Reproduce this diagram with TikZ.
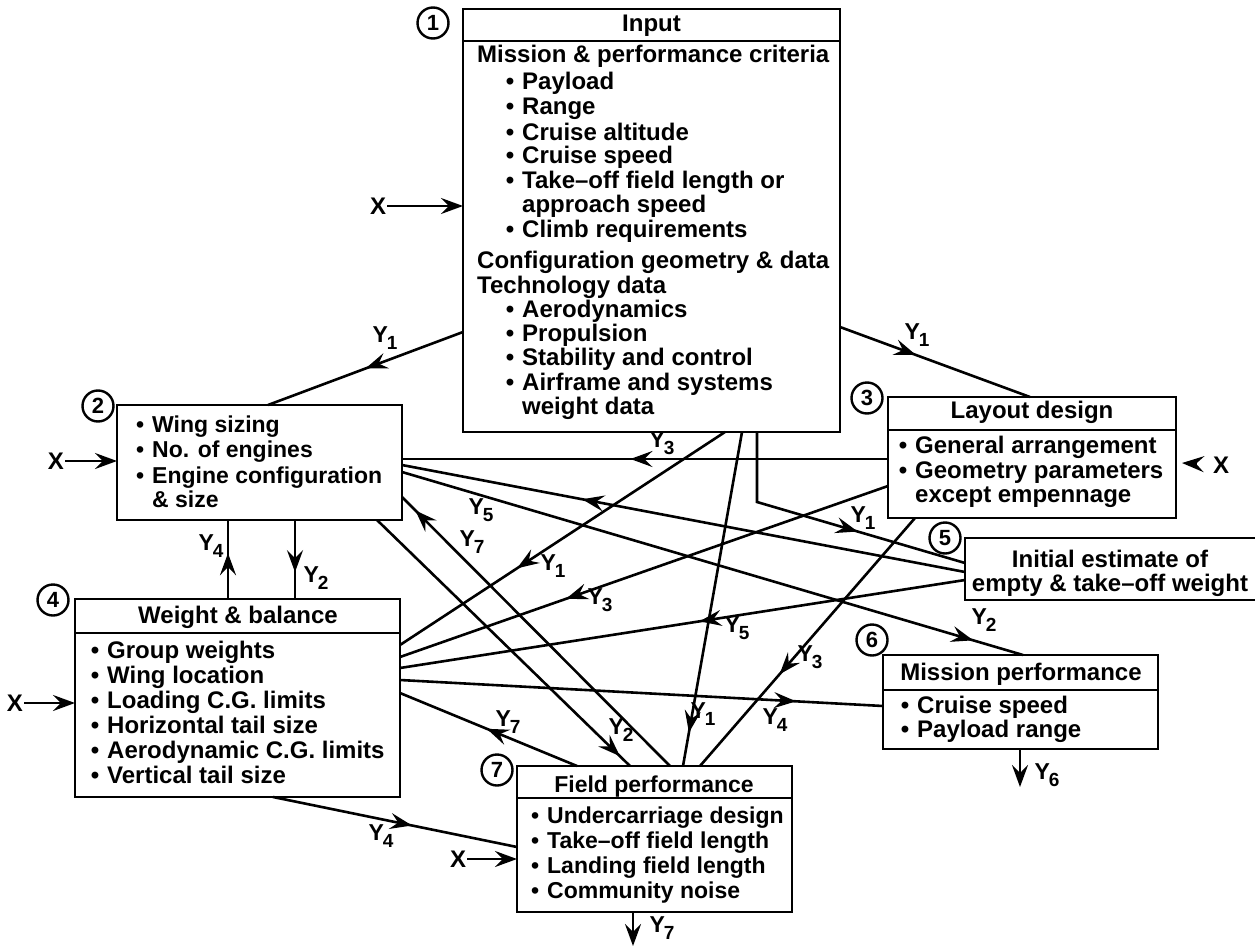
\documentclass[tikz,border=0pt]{standalone}
\usepackage{fontspec}
\setmainfont{Liberation Sans}
\usetikzlibrary{arrows.meta,calc,decorations.markings}

% bullet hanging to the left of an item
\newcommand{\bul}{\llap{\textbullet\hspace{8pt}}}
% output symbol Y with a lowered index
\newcommand{\Yn}[1]{Y\kern-1pt\raisebox{-7pt}{\fontsize{19}{19}\selectfont#1}}

\begin{document}
\begin{tikzpicture}[
  x=1pt, y=-1pt,
  >={Stealth[length=22pt,width=16pt,inset=8pt]},
  box/.style={draw, line width=2.9pt, rectangle, inner sep=0pt, outer sep=0pt, anchor=north west},
  titlerule/.style={line width=2.6pt},
  txt/.style={font=\bfseries\fontsize{24}{25}\selectfont, inner sep=0pt, anchor=base west},
  ttl/.style={font=\bfseries\fontsize{24}{25}\selectfont, inner sep=0pt, anchor=base},
  narrow/.style={font=\bfseries\fontsize{23}{25}\selectfont},
  num/.style={draw, circle, line width=2.4pt, minimum size=31pt, inner sep=0pt, font=\bfseries\fontsize{22}{22}\selectfont},
  xin/.style={font=\bfseries\fontsize{24}{24}\selectfont, inner sep=1pt},
  ylab/.style={font=\bfseries\fontsize{23}{23}\selectfont, inner sep=0pt},
  wire/.style={line width=2.6pt},
  midarrow/.style={postaction={decorate}, decoration={markings, mark=at position #1 with {\arrow{>}}}},
]
\fill[white] (0,0) rectangle (1255,947);
\useasboundingbox (0,0) rectangle (1255,947);

% ---------- boxes ----------
\node[box, minimum width=377pt, minimum height=423pt] (b1) at (463,9) {};
\node[box, minimum width=285pt, minimum height=115pt] (b2) at (117,405) {};
\node[box, minimum width=288pt, minimum height=121pt] (b3) at (888,397) {};
\node[box, minimum width=325pt, minimum height=198pt] (b4) at (75,599) {};
\node[box, draw=none, minimum width=290pt, minimum height=62pt] (b5) at (965,538) {};
\draw[line width=2.9pt] (b5.north east) -- (b5.north west) -- (b5.south west) -- (b5.south east);
\node[box, minimum width=275pt, minimum height=94pt] (b6) at (883,655) {};
\node[box, minimum width=275pt, minimum height=146pt] (b7) at (517,766) {};

% title rules
\draw[titlerule] ($(b1.north west)+(0,32)$) -- ($(b1.north east)+(0,32)$);
\draw[titlerule] ($(b3.north west)+(0,33)$) -- ($(b3.north east)+(0,33)$);
\draw[titlerule] ($(b4.north west)+(0,34)$) -- ($(b4.north east)+(0,34)$);
\draw[titlerule] ($(b6.north west)+(0,35)$) -- ($(b6.north east)+(0,35)$);
\draw[titlerule] ($(b7.north west)+(0,32)$) -- ($(b7.north east)+(0,32)$);

% step numbers
\node[num] (c1) at (433,23) {1};
\node[num] (c2) at (98,406) {2};
\node[num] (c3) at (867,398) {3};
\node[num] (c4) at (53,600) {4};
\node[num] (c5) at (945,538) {5};
\node[num] (c6) at (872,640) {6};
\node[num] (c7) at (497,770) {7};

% ---------- box texts ----------
% 1 Input
\node[ttl] (t1h) at (651.5,32) {Input};
\node[txt] (t1a) at (477,63)  {Mission \& performance criteria};
\node[txt] (t1b) at (522,90)  {\bul Payload};
\node[txt] (t1c) at (522,115) {\bul Range};
\node[txt] (t1d) at (522,140) {\bul Cruise altitude};
\node[txt] (t1e) at (522,164) {\bul Cruise speed};
\node[txt] (t1f) at (522,188) {\bul Take--off field length or};
\node[txt] (t1g) at (522,212) {approach speed};
\node[txt] (t1i) at (522,237) {\bul Climb requirements};
\node[txt] (t1j) at (477,268) {Configuration geometry \& data};
\node[txt] (t1k) at (477,293) {Technology data};
\node[txt] (t1l) at (522,317) {\bul Aerodynamics};
\node[txt] (t1m) at (522,341) {\bul Propulsion};
\node[txt] (t1n) at (522,365) {\bul Stability and control};
\node[txt] (t1o) at (522,390) {\bul Airframe and systems};
\node[txt] (t1p) at (522,414) {weight data};

% 2 sizing
\node[txt,narrow] (t2a) at (152,432) {\bul Wing sizing};
\node[txt,narrow] (t2b) at (152,457) {\bul No. of engines};
\node[txt,narrow] (t2c) at (152,483) {\bul Engine configuration};
\node[txt,narrow] (t2d) at (152,507) {\& size};

% 3 layout
\node[ttl] (t3h) at (1032,418) {Layout design};
\node[txt] (t3a) at (915,453) {\bul General arrangement};
\node[txt] (t3b) at (915,478) {\bul Geometry parameters};
\node[txt] (t3c) at (915,502) {except empennage};

% 4 weight & balance
\node[ttl] (t4h) at (238,623) {Weight \& balance};
\node[txt] (t4a) at (107,658) {\bul Group weights};
\node[txt] (t4b) at (107,683) {\bul Wing location};
\node[txt] (t4c) at (107,708) {\bul Loading C.G. limits};
\node[txt] (t4d) at (107,733) {\bul Horizontal tail size};
\node[txt] (t4e) at (107,758) {\bul Aerodynamic C.G. limits};
\node[txt] (t4f) at (107,783) {\bul Vertical tail size};

% 5 weight estimate
\node[ttl] (t5a) at (1110,567) {Initial estimate of};
\node[ttl] (t5b) at (1110,591) {empty \& take--off weight};

% 6 mission performance
\node[ttl] (t6h) at (1021,680) {Mission performance};
\node[txt] (t6a) at (917,713) {\bul Cruise speed};
\node[txt] (t6b) at (917,737) {\bul Payload range};

% 7 field performance
\node[ttl,narrow] (t7h) at (654,792) {Field performance};
\node[txt,narrow] (t7a) at (547,823) {\bul Undercarriage design};
\node[txt,narrow] (t7b) at (547,848) {\bul Take--off field length};
\node[txt,narrow] (t7c) at (547,873) {\bul Landing field length};
\node[txt,narrow] (t7d) at (547,898) {\bul Community noise};

% ---------- external inputs X ----------
\node[xin] (xin1) at (378,206) {X};
\node[xin] (xin2) at (56,461) {X};
\node[xin] (xin3) at (1221,465) {X};
\node[xin] (xin4) at (15,703) {X};
\node[xin] (xin7) at (458,859) {X};
\coordinate (x3tip) at ($(b3.north east)+(6,66)$);
\coordinate (y7out) at (633,946);
\coordinate (y6out) at (1020,787);

\draw[wire,->] (xin1) -- ($(b1.north west)+(0,197)$);
\draw[wire,->] (xin2) -- ($(b2.north west)+(0,56)$);
\draw[wire,->,shorten <=15pt] (xin3) -- (x3tip);
\draw[wire,->] (xin4) -- ($(b4.north west)+(0,104)$);
\draw[wire,->] (xin7) -- ($(b7.north west)+(0,93)$);

% ---------- data flows ----------
\draw[wire,midarrow=0.5]  ($(b1.north west)+(0,323)$) -- ($(b2.north west)+(151,0)$);
\draw[wire,midarrow=0.4]  ($(b1.north east)+(0,318)$) -- ($(b3.north west)+(142,0)$);
\draw[wire,midarrow=0.53] ($(b3.north west)+(0,62)$) -- ($(b2.north east)+(0,54)$);
\draw[wire,midarrow=0.68] ($(b5.north west)+(0,34)$) -- ($(b2.north east)+(0,60)$);
\draw[wire,midarrow=0.92] ($(b2.north east)+(0,67)$) -- ($(b6.north west)+(140,0)$);
\draw[wire,midarrow=0.58] ($(b4.north west)+(153,0)$) -- ($(b2.south west)+(111,0)$);
\draw[wire,midarrow=0.66] ($(b2.south west)+(178,0)$) -- ($(b4.north west)+(220,0)$);
\draw[wire,midarrow=0.96] ($(b2.south west)+(260,0)$) -- ($(b7.north west)+(113,0)$);
\draw[wire,midarrow=0.95] ($(b7.north west)+(153,0)$) -- ($(b2.north east)+(0,92)$);
\draw[wire,midarrow=0.64] ($(b1.south west)+(262,0)$) -- ($(b4.north east)+(0,46)$);
\draw[wire,midarrow=0.66] ($(b3.north west)+(0,89)$) -- ($(b4.north east)+(0,58)$);
\draw[wire,midarrow=0.47] ($(b5.north west)+(0,42)$) -- ($(b4.north east)+(0,69)$);
\draw[wire,midarrow=0.82] ($(b4.north east)+(0,81)$) -- ($(b6.north west)+(0,51)$);
\draw[wire,midarrow=0.51] ($(b7.north west)+(60,0)$) -- ($(b4.north east)+(0,94)$);
\draw[wire,midarrow=0.57] ($(b4.south west)+(198,0)$) -- ($(b7.north west)+(0,81)$);
\draw[wire,midarrow=0.9]  ($(b1.south west)+(279,0)$) -- ($(b7.north west)+(166,0)$);
\draw[wire,midarrow=0.61] ($(b1.south west)+(294,0)$) -- ++(0,70) -- ($(b5.north west)+(0,25)$);
\draw[wire,midarrow=0.63] ($(b3.south west)+(27,0)$) -- ($(b7.north west)+(183,0)$);
\draw[wire,->] ($(b7.south west)+(116,0)$) -- (y7out);
\draw[wire,->] ($(b6.south west)+(137,0)$) -- (y6out);

% ---------- flow labels ----------
\node[ylab] (l1)  at (385,338) {\Yn1};
\node[ylab] (l2)  at (917,335) {\Yn1};
\node[ylab] (l3)  at (662,443) {\Yn3};
\node[ylab] (l4)  at (481,510) {\Yn5};
\node[ylab] (l5)  at (984,620) {\Yn2};
\node[ylab] (l6)  at (211,546) {\Yn4};
\node[ylab] (l7)  at (316,578) {\Yn2};
\node[ylab] (l8)  at (621,730) {\Yn2};
\node[ylab] (l9)  at (472,542) {\Yn7};
\node[ylab] (l10) at (553,566) {\Yn1};
\node[ylab] (l11) at (600,600) {\Yn3};
\node[ylab] (l12) at (737,628) {\Yn5};
\node[ylab] (l13) at (775,720) {\Yn4};
\node[ylab] (l14) at (508,722) {\Yn7};
\node[ylab] (l15) at (381,836) {\Yn4};
\node[ylab] (l16) at (662,928) {\Yn7};
\node[ylab] (l17) at (1047,775) {\Yn6};
\node[ylab] (l18) at (703,714) {\Yn1};
\node[ylab] (l19) at (863,518) {\Yn1};
\node[ylab] (l20) at (810,657) {\Yn3};
\end{tikzpicture}
\end{document}
